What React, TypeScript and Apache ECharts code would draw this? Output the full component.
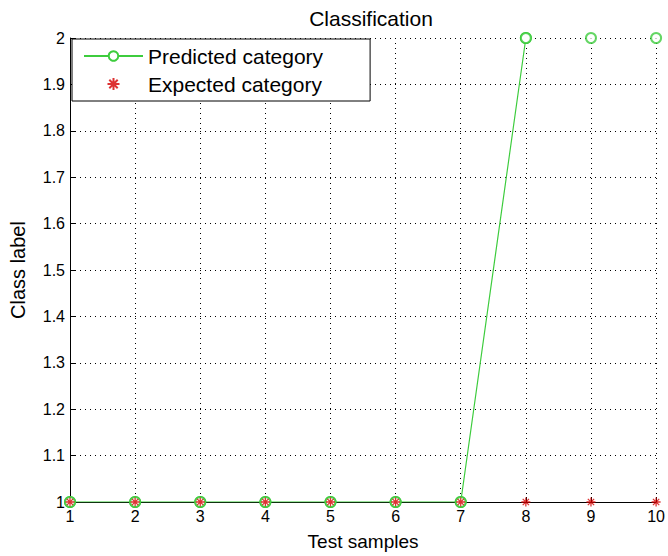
import React, { useEffect, useRef } from "react";
import * as echarts from "echarts";

const samples = [1, 2, 3, 4, 5, 6, 7, 8, 9, 10];
const predicted = [1, 1, 1, 1, 1, 1, 1, 2, 2, 2];
const expected = [1, 1, 1, 1, 1, 1, 1, 1, 1, 1];
const yMin = 1;
const yMax = 2;

const GREEN = "#3dcc3d";
const RED = "#d40000";
const ASTERISK =
  "path://M5,0L5,10M0,5L10,5M1.5,1.5L8.5,8.5M1.5,8.5L8.5,1.5";

export default function App() {
  const ref = useRef<HTMLDivElement>(null);
  useEffect(() => {
    if (!ref.current) return;
    const chart = echarts.init(ref.current, null, { renderer: "svg" });
    // the line segments lying on the top edge of the plot are clipped away
    const linePts = predicted.map((v, i) =>
      v === yMax && i > 0 && predicted[i - 1] === yMax ? null : v
    );
    const font = "'Liberation Sans', Arial, sans-serif";
    chart.setOption({
      animation: false,
      backgroundColor: "#ffffff",
      textStyle: { fontFamily: font },
      title: {
        text: "Classification",
        left: 366,
        textAlign: "center",
        top: 3,
        textStyle: { fontSize: 21, fontWeight: "normal", color: "#000", fontFamily: font },
      },
      grid: { left: 70, right: 6, top: 38, bottom: 53, containLabel: false },
      legend: {
        left: 72,
        top: 39,
        orient: "vertical",
        backgroundColor: "#fff",
        borderColor: "#000",
        borderWidth: 1,
        borderRadius: 0,
        padding: [6, 47, 6, 11],
        itemWidth: 59,
        itemHeight: 12,
        itemGap: 6,
        data: ["Predicted category", "Expected category"],
        textStyle: { fontSize: 21, lineHeight: 22, color: "#000", fontFamily: font },
      },
      xAxis: {
        type: "value",
        min: 1,
        max: 10,
        interval: 1,
        name: "Test samples",
        nameLocation: "middle",
        nameGap: 30,
        nameTextStyle: { fontSize: 19, color: "#000", fontFamily: font },
        axisLine: { show: true, lineStyle: { color: "#000", width: 1 } },
        axisTick: { show: true, inside: true, length: 5, lineStyle: { color: "#000" } },
        axisLabel: { fontSize: 16, color: "#000", margin: 6, fontFamily: font },
        splitLine: { show: true, lineStyle: { color: "#000", type: [1, 4], width: 1 } },
      },
      yAxis: {
        type: "value",
        min: yMin,
        max: yMax,
        interval: 0.1,
        name: "Class label",
        nameLocation: "middle",
        nameGap: 42,
        nameTextStyle: { fontSize: 20, color: "#000", fontFamily: font },
        axisLine: { show: true, lineStyle: { color: "#000", width: 1 } },
        axisTick: { show: true, inside: true, length: 5, lineStyle: { color: "#000" } },
        axisLabel: {
          fontSize: 16,
          color: "#000",
          margin: 5,
          fontFamily: font,
          formatter: (v: number) => String(Number(v.toFixed(1))),
        },
        splitLine: { show: true, lineStyle: { color: "#000", type: [1, 4], width: 1 } },
      },
      series: [
        {
          name: "Predicted category",
          type: "line",
          data: samples.map((x, i) => [x, linePts[i]]),
          connectNulls: false,
          symbol: "emptyCircle",
          symbolSize: 10,
          showSymbol: true,
          lineStyle: { color: GREEN, width: 1.2 },
          itemStyle: { color: GREEN, borderColor: GREEN, borderWidth: 1.2 },
          z: 3,
        },
        {
          name: "predicted-markers",
          type: "scatter",
          data: samples.map((x, i) => [x, predicted[i]]),
          symbol: "emptyCircle",
          symbolSize: 10,
          itemStyle: { color: GREEN, borderColor: GREEN, borderWidth: 1.2 },
          z: 3,
        },
        {
          name: "Expected category",
          type: "scatter",
          data: samples.map((x, i) => [x, expected[i]]),
          symbol: ASTERISK,
          symbolSize: 9,
          itemStyle: { color: "rgba(0,0,0,0)", borderColor: RED, borderWidth: 1.3 },
          z: 4,
        },
      ],
    });
    return () => chart.dispose();
  }, []);
  return (
    <div
      ref={ref}
      style={{ position: "fixed", left: 0, top: 0, width: 668, height: 556, background: "#fff" }}
    />
  );
}
